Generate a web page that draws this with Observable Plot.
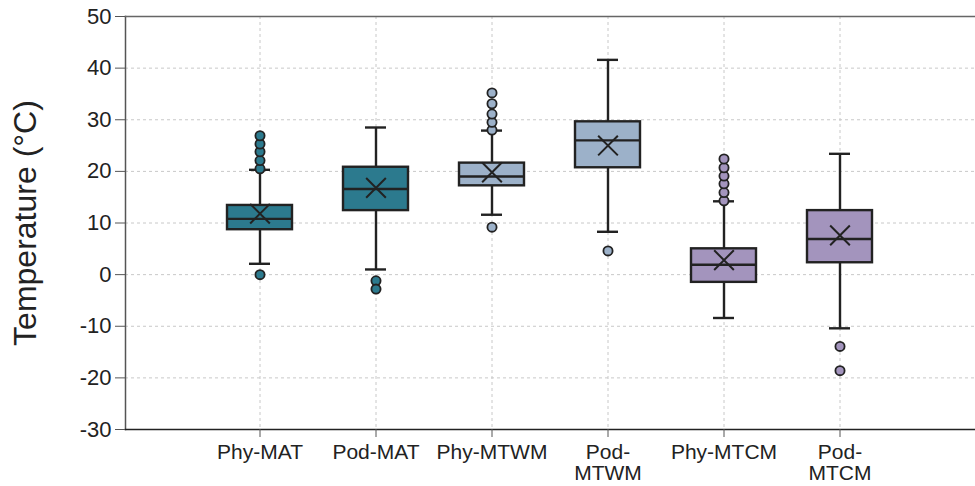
<!DOCTYPE html>
<html><head><meta charset="utf-8">
<script src="https://cdn.jsdelivr.net/npm/d3@7"></script>
<script src="https://cdn.jsdelivr.net/npm/@observablehq/plot@0.6"></script>
<style>body{margin:0;background:#fff;} #chart{width:975px;height:486px;}</style>
</head><body><div id="chart"></div>
<script>
const categories = ["Phy-MAT", "Pod-MAT", "Phy-MTWM", "Pod-MTWM", "Phy-MTCM", "Pod-MTCM"];
const tickLabels = ["Phy-MAT", "Pod-MAT", "Phy-MTWM", "Pod-\nMTWM", "Phy-MTCM", "Pod-\nMTCM"];
const groups = ["MAT", "MAT", "MTWM", "MTWM", "MTCM", "MTCM"];
const whiskerLow = [2.1, 1.0, 11.6, 8.3, -8.4, -10.4];
const q1 = [8.7, 12.4, 17.2, 20.7, -1.5, 2.3];
const median = [10.8, 16.6, 19.0, 26.0, 1.9, 6.9];
const q3 = [13.4, 20.8, 21.6, 29.6, 5.0, 12.4];
const whiskerHigh = [20.3, 28.5, 27.9, 41.6, 14.2, 23.4];
const mean = [11.8, 16.8, 19.8, 25.0, 2.8, 7.6];
const outliers = [
  [0.0, 20.5, 22.1, 23.8, 25.3, 26.9],
  [-1.2, -2.8],
  [9.2, 28.0, 29.5, 31.1, 33.1, 35.2],
  [4.6],
  [14.3, 15.9, 17.6, 19.1, 20.7, 22.4],
  [-13.9, -18.6]
];
const yTicks = [-30, -20, -10, 0, 10, 20, 30, 40, 50];
const groupDomain = ["MAT", "MTWM", "MTCM"];
const groupColors = ["#2c7a8e", "#9cb1c9", "#a394bd"];
const yTitle = "Temperature (°C)";

const boxes = categories.map((c, i) => ({
  cat: c, group: groups[i], lo: whiskerLow[i], q1: q1[i], med: median[i],
  q3: q3[i], hi: whiskerHigh[i], mean: mean[i]
}));
const outRows = categories.flatMap((c, i) => outliers[i].map(v => ({cat: c, group: groups[i], v})));

const ink = "#222";
const plot = Plot.plot({
  width: 975,
  height: 486,
  marginLeft: 125,
  marginRight: 1,
  marginTop: 16,
  marginBottom: 57,
  style: {fontFamily: "'Liberation Sans', Arial, sans-serif", fontSize: "22px", color: "#222", background: "#fff"},
  x: {type: "band", domain: categories, paddingInner: 0.44, paddingOuter: 0.87, axis: null},
  y: {domain: [-30, 50], axis: null},
  color: {domain: groupDomain, range: groupColors},
  marks: [
    Plot.gridY(yTicks, {stroke: "#c8c8c8", strokeOpacity: 1, strokeDasharray: "3,3"}),
    Plot.gridX({stroke: "#c8c8c8", strokeOpacity: 1, strokeDasharray: "3,3"}),
    Plot.frame({anchor: "left", stroke: "#555", strokeWidth: 1.5}),
    Plot.frame({anchor: "top", stroke: "#666", strokeWidth: 1.5}),
    Plot.frame({anchor: "bottom", stroke: "#222", strokeWidth: 1.5}),
    Plot.axisY(yTicks, {tickSize: 10, tickPadding: 4, fontSize: 22, label: null, stroke: "#555",
      tickFormat: d => String(d)}),
    Plot.axisX({tickSize: 8, tickPadding: 7, fontSize: 21, lineHeight: 1, label: null,
      tickFormat: d => tickLabels[categories.indexOf(d)], stroke: "#555"}),
    Plot.ruleX(boxes, {x: "cat", y1: "lo", y2: "hi", stroke: ink, strokeWidth: 2.4}),
    Plot.tickY(boxes, {x: "cat", y: "lo", stroke: ink, strokeWidth: 2.4, insetLeft: 22, insetRight: 22}),
    Plot.tickY(boxes, {x: "cat", y: "hi", stroke: ink, strokeWidth: 2.4, insetLeft: 22, insetRight: 22}),
    Plot.barY(boxes, {x: "cat", y1: "q1", y2: "q3", fill: "group", stroke: ink, strokeWidth: 2.4}),
    Plot.tickY(boxes, {x: "cat", y: "med", stroke: ink, strokeWidth: 2.4}),
    Plot.dot(boxes, {x: "cat", y: "mean", symbol: "times", r: 9, stroke: ink, strokeWidth: 2}),
    Plot.dot(outRows, {x: "cat", y: "v", r: 4.6, fill: "group", stroke: ink, strokeWidth: 1.8}),
    Plot.text([yTitle], {frameAnchor: "left", textAnchor: "middle", rotate: -90, dx: -100, fontSize: 32, fill: "#222"})
  ]
});
document.getElementById("chart").appendChild(plot);
</script>
</body></html>
